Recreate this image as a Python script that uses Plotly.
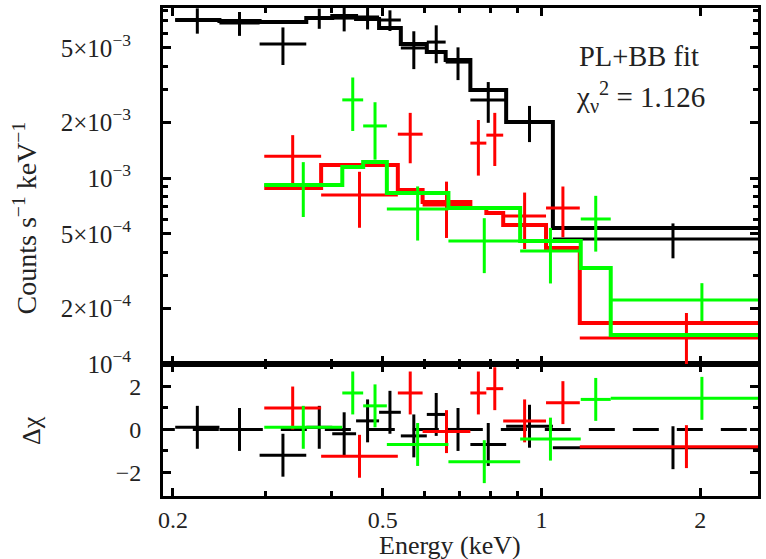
import numpy as np
import plotly.graph_objects as go

# ---------------- data ----------------
# black data set
black_lo = [0.202, 0.245, 0.292, 0.358, 0.401, 0.445, 0.492, 0.541, 0.606, 0.658, 0.733, 0.857, 1.051]
black_hi = [0.245, 0.292, 0.358, 0.401, 0.445, 0.492, 0.541, 0.606, 0.658, 0.733, 0.857, 1.051, 3.0]
black_rate = [7.07e-3, 6.81e-3, 5.25e-3, 7.24e-3, 7.24e-3, 7.34e-3, 7.07e-3, 5.0e-3, 5.38e-3, 4.2e-3, 2.63e-3, 2.0e-3, 4.7e-4]
black_err = [1.1e-3, 1.0e-3, 1.2e-3, 0.9e-3, 1.1e-3, 1.05e-3, 0.9e-3, 1.15e-3, 1.24e-3, 0.84e-3, 0.65e-3, 0.44e-3, 1.0e-4]
black_model = [7.07e-3, 6.98e-3, 6.90e-3, 7.24e-3, 7.43e-3, 7.16e-3, 6.40e-3, 5.25e-3, 4.76e-3, 4.31e-3, 2.97e-3, 2.0e-3, 5.38e-4]
black_resid = [0.1, 0.0, -1.2, 0.1, -0.2, 0.4, 0.8, -0.3, 0.7, 0.0, -0.7, 0.15, -0.85]

# red data set
red_lo = [0.298, 0.382, 0.534, 0.595, 0.733, 0.786, 0.846, 1.020, 1.182]
red_hi = [0.382, 0.534, 0.595, 0.733, 0.786, 0.846, 1.020, 1.182, 3.0]
red_rate = [1.31e-3, 8.1e-4, 1.72e-3, 7.16e-4, 1.54e-3, 1.70e-3, 6.25e-4, 6.9e-4, 1.38e-4]
red_err = [3.9e-4, 2.7e-4, 5.2e-4, 2.4e-4, 5.1e-4, 5.4e-4, 2.1e-4, 2.1e-4, 5.0e-5]
red_model = [8.84e-4, 1.175e-3, 8.62e-4, 7.43e-4, 6.90e-4, 6.48e-4, 5.59e-4, 4.20e-4, 1.66e-4]
red_resid = [1.0, -1.25, 1.7, -0.1, 1.7, 1.9, 0.4, 1.25, -0.8]

# green data set
green_lo = [0.298, 0.419, 0.459, 0.509, 0.666, 0.911, 1.187, 1.353]
green_hi = [0.419, 0.459, 0.509, 0.666, 0.911, 1.187, 1.353, 3.0]
green_rate = [9.17e-4, 2.63e-3, 1.905e-3, 6.81e-4, 4.58e-4, 4.05e-4, 6.02e-4, 2.21e-4]
green_err = [3.0e-4, 8.4e-4, 6.5e-4, 2.2e-4, 1.5e-4, 1.34e-4, 2.0e-4, 5.1e-5]
green_model = [9.17e-4, 1.146e-3, 1.219e-3, 8.31e-4, 6.90e-4, 4.58e-4, 3.28e-4, 1.43e-4]
green_resid = [0.1, 1.7, 1.1, -0.7, -1.5, -0.45, 1.4, 1.45]

x_tickvals = [0.2, 0.5, 1, 2]
x_ticktext = ["0.2", "0.5", "1", "2"]
x_minor = [0.3, 0.4, 0.6, 0.7, 0.8, 0.9]
y_tickvals = [1e-4, 2e-4, 5e-4, 1e-3, 2e-3, 5e-3]
y_ticktext = ["10<sup>−4</sup>", "2×10<sup>−4</sup>", "5×10<sup>−4</sup>",
              "10<sup>−3</sup>", "2×10<sup>−3</sup>", "5×10<sup>−3</sup>"]
y_minor = [3e-4, 4e-4, 6e-4, 7e-4, 8e-4, 9e-4, 3e-3, 4e-3, 6e-3, 7e-3, 8e-3]
r_tickvals = [-2, 0, 2]
r_ticktext = ["−2", "0", "2"]
r_minor = [-1, 1]

FONT = "Liberation Serif"
TXT = "#222222"

fig = go.Figure()

def add_set(lo, hi, rate, err, model, resid, color):
    lo = np.array(lo); hi = np.array(hi)
    cen = np.sqrt(lo * hi)
    # model step
    fig.add_trace(go.Scatter(
        x=list(lo) + [hi[-1]], y=list(model) + [model[-1]],
        mode="lines", line=dict(color=color, width=4, shape="hv"),
        xaxis="x2", yaxis="y2", showlegend=False, hoverinfo="skip"))
    # data crosses
    fig.add_trace(go.Scatter(
        x=cen, y=rate, mode="markers",
        marker=dict(size=1, color=color),
        error_x=dict(type="data", symmetric=False, array=hi - cen, arrayminus=cen - lo,
                     color=color, thickness=3, width=0),
        error_y=dict(type="data", array=err, color=color, thickness=3, width=0),
        xaxis="x2", yaxis="y2", showlegend=False))
    # residuals
    fig.add_trace(go.Scatter(
        x=cen, y=resid, mode="markers",
        marker=dict(size=1, color=color),
        error_x=dict(type="data", symmetric=False, array=hi - cen, arrayminus=cen - lo,
                     color=color, thickness=3, width=0),
        error_y=dict(type="data", array=[1] * len(resid), color=color, thickness=3, width=0),
        xaxis="x", yaxis="y", showlegend=False))

# zero line in residual panel
fig.add_trace(go.Scatter(x=[0.18, 3.0], y=[0, 0], mode="lines",
                         line=dict(color="black", width=3, dash="26px,18px"),
                         xaxis="x", yaxis="y", showlegend=False, hoverinfo="skip"))

add_set(black_lo, black_hi, black_rate, black_err, black_model, black_resid, "#000000")
add_set(red_lo, red_hi, red_rate, red_err, red_model, red_resid, "#ff0000")
add_set(green_lo, green_hi, green_rate, green_err, green_model, green_resid, "#00ff00")

xr = [np.log10(0.1915), np.log10(2.574)]
split = 0.2705

common_axis = dict(showline=True, linecolor="black", linewidth=3, mirror="ticks",
                   ticks="inside", ticklen=8, tickwidth=2.5, tickcolor="black",
                   showgrid=False, zeroline=False)
minor_style = dict(ticks="inside", ticklen=5, tickwidth=2.5, tickcolor="black")

fig.update_layout(
    width=766, height=559,
    margin=dict(l=163, r=5, t=8, b=63),
    paper_bgcolor="white", plot_bgcolor="white",
    font=dict(family=FONT, size=24, color=TXT),
    xaxis=dict(domain=[0, 1], anchor="y", type="log", range=xr,
               tickvals=x_tickvals, ticktext=x_ticktext,
               minor=dict(tickvals=x_minor, **minor_style),
               ticklabelstandoff=0,
               tickfont=dict(family=FONT, size=24, color=TXT),
               **common_axis),
    yaxis=dict(domain=[0, split], anchor="x", range=[-3.1, 3.05],
               tickvals=r_tickvals, ticktext=r_ticktext,
               minor=dict(tickvals=r_minor, **minor_style),
               ticklabelstandoff=14,
               tickfont=dict(family=FONT, size=24, color=TXT),
               **common_axis),
    xaxis2=dict(domain=[0, 1], anchor="y2", type="log", range=xr, matches="x",
                tickvals=x_tickvals, showticklabels=False,
                minor=dict(tickvals=x_minor, **minor_style),
                **common_axis),
    yaxis2=dict(domain=[split, 1], anchor="x2", type="log", range=[-4, -2.086],
                tickvals=y_tickvals, ticktext=y_ticktext,
                minor=dict(tickvals=y_minor, **minor_style),
                ticklabelstandoff=24,
                tickfont=dict(family=FONT, size=25, color=TXT),
                **common_axis),
    annotations=[
        dict(text="Counts s<sup>−1</sup> keV<sup>−1</sup>", xref="paper", yref="paper",
             x=-0.231, y=0.57, textangle=-90, xanchor="center", yanchor="middle",
             showarrow=False, font=dict(family=FONT, size=28, color=TXT)),
        dict(text="Δχ", xref="paper", yref="paper",
             x=-0.222, y=0.135, textangle=-90, xanchor="center", yanchor="middle",
             showarrow=False, font=dict(family=FONT, size=26, color=TXT)),
        dict(text="Energy (keV)", xref="paper", yref="paper",
             x=0.483, y=-0.102, xanchor="center", yanchor="middle",
             showarrow=False, font=dict(family=FONT, size=26, color=TXT)),
        dict(text="PL+BB fit", xref="paper", yref="paper", x=0.695, y=0.9016,
             xanchor="left", yanchor="middle", showarrow=False,
             font=dict(family=FONT, size=28.5, color=TXT)),
        dict(text="χ<sub>ν</sub><sup>2</sup> = 1.126", xref="paper", yref="paper", x=0.69, y=0.8176,
             xanchor="left", yanchor="middle", showarrow=False,
             font=dict(family=FONT, size=29, color=TXT)),
    ],
)

fig.write_html("out.html")
